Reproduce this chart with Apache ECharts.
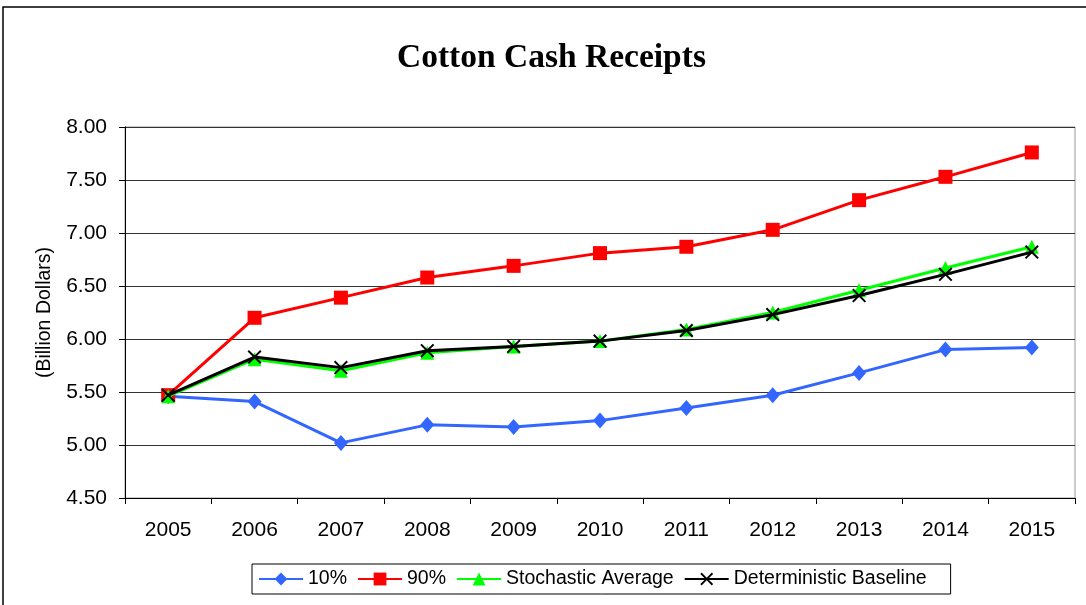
<!DOCTYPE html>
<html>
<head>
<meta charset="utf-8">
<script src="https://cdn.jsdelivr.net/npm/echarts@6/dist/echarts.min.js"></script>
<style>
html,body{margin:0;padding:0;background:#fff;}
#chart{width:1086px;height:605px;}
</style>
</head>
<body>
<div id="chart"></div>
<script>
var years = ['2005','2006','2007','2008','2009','2010','2011','2012','2013','2014','2015'];
var p10 = [5.46, 5.41, 5.02, 5.19, 5.17, 5.23, 5.35, 5.47, 5.68, 5.90, 5.92];
var p90 = [5.47, 6.20, 6.39, 6.58, 6.69, 6.81, 6.87, 7.03, 7.31, 7.53, 7.76];
var stochAvg = [5.46, 5.81, 5.70, 5.87, 5.93, 5.98, 6.09, 6.25, 6.46, 6.67, 6.87];
var detBase = [5.47, 5.83, 5.73, 5.89, 5.93, 5.98, 6.08, 6.23, 6.41, 6.61, 6.82];
var yTicks = {min: 4.5, max: 8.0, interval: 0.5};

var xPath = 'path://M0,1L1,0L5,4L9,0L10,1L6,5L10,9L9,10L5,6L1,10L0,9L4,5Z';

var chart = echarts.init(document.getElementById('chart'), null, {renderer: 'canvas'});
chart.setOption({
  animation: false,
  backgroundColor: '#fff',
  title: {
    text: 'Cotton Cash Receipts',
    left: 392,
    top: 36,
    textStyle: {fontFamily: 'Liberation Serif', fontWeight: 'bold', fontSize: 33.5, color: '#000'}
  },
  graphic: [{
    type: 'rect', silent: true, z: 100,
    shape: {x: 3, y: 7, width: 1100, height: 620},
    style: {fill: 'none', stroke: '#000', lineWidth: 1.5}
  }],
  legend: {
    top: 564,
    left: 252,
    itemWidth: 44,
    itemHeight: 16,
    itemGap: 10,
    padding: [5, 24, 5, 6],
    borderColor: '#000',
    borderWidth: 1,
    textStyle: {fontFamily: 'Liberation Sans', fontSize: 19.5, color: '#000'},
    data: ['10%', '90%', 'Stochastic Average', 'Deterministic Baseline']
  },
  grid: {
    left: 125, right: 11, top: 127, bottom: 107,
    show: true, borderColor: '#999', borderWidth: 1
  },
  xAxis: {
    type: 'category',
    data: years,
    boundaryGap: true,
    axisLine: {lineStyle: {color: '#000', width: 1}},
    axisTick: {show: true, length: 6, lineStyle: {color: '#000'}},
    axisLabel: {fontFamily: 'Liberation Sans', fontSize: 21, color: '#000', margin: 22},
    splitLine: {show: false}
  },
  yAxis: {
    type: 'value',
    min: yTicks.min, max: yTicks.max, interval: yTicks.interval,
    name: '(Billion Dollars)',
    nameLocation: 'middle',
    nameGap: 70,
    nameRotate: 90,
    nameTextStyle: {fontFamily: 'Liberation Sans', fontSize: 19.5, color: '#000'},
    axisLine: {show: true, lineStyle: {color: '#000', width: 1}},
    axisTick: {show: true, length: 6, lineStyle: {color: '#000'}},
    axisLabel: {fontFamily: 'Liberation Sans', fontSize: 21, color: '#000', margin: 18,
      formatter: function (v) { return v.toFixed(2); }},
    splitLine: {show: true, lineStyle: {color: '#333', width: 1}}
  },
  series: [
    {
      name: '10%', type: 'line', data: p10,
      symbol: 'diamond', symbolSize: [14, 16],
      lineStyle: {color: '#3366FF', width: 3},
      itemStyle: {color: '#3366FF'}, z: 3
    },
    {
      name: '90%', type: 'line', data: p90,
      symbol: 'rect', symbolSize: 14,
      lineStyle: {color: '#FF0000', width: 3},
      itemStyle: {color: '#FF0000'}, z: 4
    },
    {
      name: 'Stochastic Average', type: 'line', data: stochAvg,
      symbol: 'triangle', symbolSize: 14,
      lineStyle: {color: '#00FF00', width: 3},
      itemStyle: {color: '#00FF00'}, z: 5
    },
    {
      name: 'Deterministic Baseline', type: 'line', data: detBase,
      symbol: xPath, symbolSize: 14,
      lineStyle: {color: '#000', width: 3},
      itemStyle: {color: '#000'}, z: 6
    }
  ]
});
</script>
</body>
</html>
